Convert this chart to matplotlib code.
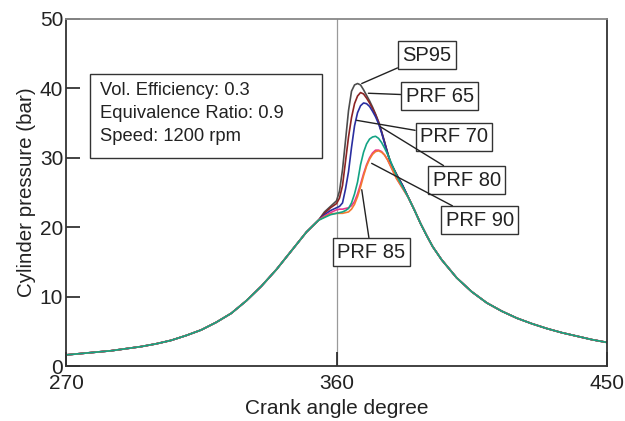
import numpy as np
import matplotlib
matplotlib.use("Agg")
import matplotlib.pyplot as plt
from matplotlib.patches import Rectangle

plt.rcParams['font.family'] = ['Liberation Sans', 'DejaVu Sans']

# compression stroke (same for every fuel)
comp_ca = [270, 275, 280, 285, 290, 295, 300, 305, 310, 315, 320, 325, 330, 335, 340, 345, 350, 354]
comp_p = [1.6, 1.8, 2.0, 2.2, 2.5, 2.8, 3.2, 3.7, 4.4, 5.2, 6.3, 7.6, 9.4, 11.5, 13.9, 16.6, 19.3, 21.0]

# expansion stroke (same for every fuel)
exp_ca = [386, 388, 390, 392, 395, 400, 405, 410, 415, 420, 425, 430, 435, 440, 445, 450]
exp_p = [22.4, 20.5, 18.8, 17.2, 15.3, 12.7, 10.7, 9.1, 7.9, 6.9, 6.1, 5.4, 4.8, 4.3, 3.8, 3.4]

# combustion window
comb_ca = [356, 358, 360, 361, 362, 363, 364, 365, 366, 367, 368, 369, 370, 371,
           372, 373, 374, 375, 376, 377, 378, 380, 382, 384]
p_sp95 = [22.2, 23.0, 23.8, 25.2, 28.3, 32.5, 36.8, 39.6, 40.5, 40.7, 40.5, 39.8, 39.0, 38.2,
          37.3, 36.3, 35.2, 33.8, 32.3, 30.7, 29.3, 27.6, 26.0, 24.2]
p_prf65 = [22.0, 22.8, 23.4, 24.2, 26.0, 29.5, 33.0, 35.8, 37.8, 38.9, 39.4, 39.2, 38.6, 37.9,
           37.1, 36.2, 35.1, 33.7, 32.2, 30.7, 29.3, 27.6, 26.0, 24.2]
p_prf70 = [21.8, 22.4, 22.8, 23.0, 23.5, 25.5, 28.0, 31.5, 34.6, 36.5, 37.5, 37.9, 37.8, 37.4,
           36.7, 35.9, 34.9, 33.6, 32.1, 30.6, 29.2, 27.5, 26.0, 24.2]
p_prf80 = [21.4, 21.8, 22.0, 22.1, 22.2, 22.4, 22.7, 23.5, 24.8, 26.5, 29.0, 30.8, 32.0, 32.7,
           33.0, 33.1, 32.8, 32.2, 31.4, 30.5, 29.5, 27.4, 25.8, 24.2]
p_prf85 = [21.5, 21.9, 22.0, 22.0, 22.0, 22.1, 22.2, 22.6, 23.3, 24.4, 25.8, 27.4, 28.8, 29.8,
           30.5, 30.9, 31.0, 30.8, 30.4, 29.7, 28.8, 27.0, 25.6, 24.2]
p_prf90 = [21.6, 22.1, 22.5, 22.6, 22.6, 22.7, 22.8, 23.1, 23.7, 24.8, 26.2, 27.7, 29.0, 30.0,
           30.7, 31.1, 31.1, 30.9, 30.4, 29.7, 28.8, 27.0, 25.6, 24.2]

fuels = ['SP95', 'PRF 65', 'PRF 70', 'PRF 90', 'PRF 85', 'PRF 80']
comb_p = [p_sp95, p_prf65, p_prf70, p_prf90, p_prf85, p_prf80]
colors = ['#4d4d4d', '#8b2323', '#2a2ea0', '#e8358f', '#f47a30', '#13a384']

# label text position and point on the curve
label_xy = {'SP95': (390.1, 44.8), 'PRF 65': (394.4, 38.9), 'PRF 70': (399.1, 33.0),
            'PRF 80': (403.4, 26.8), 'PRF 90': (407.7, 21.0), 'PRF 85': (371.5, 16.4)}
point_xy = {'SP95': (368.4, 40.7), 'PRF 65': (370.6, 39.3), 'PRF 70': (366.7, 35.4),
            'PRF 80': (374.5, 34.5), 'PRF 90': (371.7, 29.2), 'PRF 85': (368.4, 25.4)}

info_lines = ['Vol. Efficiency: 0.3', 'Equivalence Ratio: 0.9', 'Speed: 1200 rpm']

fig = plt.figure(figsize=(6.25, 4.21), dpi=100)
ax = fig.add_axes([0.1056, 0.1306, 0.8656, 0.8243])

ax.axvline(360, color='#9a9a9a', lw=0.9, zorder=1)

for name, p, c in zip(fuels, comb_p, colors):
    ca = np.concatenate([comp_ca, comb_ca, exp_ca])
    pr = np.concatenate([comp_p, p, exp_p])
    ax.plot(ca, pr, color=c, lw=1.2, zorder=2)

for name in ['SP95', 'PRF 65', 'PRF 70', 'PRF 80', 'PRF 90', 'PRF 85']:
    ax.annotate(name, xy=point_xy[name], xytext=label_xy[name], fontsize=14.5,
                ha='center', va='center', color='#222222',
                bbox=dict(boxstyle='square,pad=0.22', fc='white', ec='#333333', lw=1.0),
                arrowprops=dict(arrowstyle='-', color='#222222', lw=1.0, shrinkA=0, shrinkB=0),
                zorder=5)

# operating conditions box
ax.add_patch(Rectangle((278.0, 30.0), 77.2, 12.1, fc='white', ec='#333333', lw=1.0, zorder=4))
for i, line in enumerate(info_lines):
    ax.text(281.3, 39.7 - i * 3.3, line, fontsize=13.2, va='center', ha='left',
            color='#222222', zorder=5)

ax.set_xlim(270, 450)
ax.set_ylim(0, 50)
ax.set_xticks([270, 360, 450])
ax.set_yticks([0, 10, 20, 30, 40, 50])
ax.tick_params(direction='in', length=10, width=1.2, labelsize=15, colors='#222222', pad=2)
ax.tick_params(axis='x', pad=6)
for s in ax.spines.values():
    s.set_color('#333333')
    s.set_linewidth(1.3)
ax.spines['top'].set_color('#888888')

ax.set_xlabel('Crank angle degree', fontsize=15, color='#222222', labelpad=4)
ax.set_ylabel('Cylinder pressure (bar)', fontsize=14.8, color='#222222', labelpad=3)

fig.savefig('out.png', dpi=100)
